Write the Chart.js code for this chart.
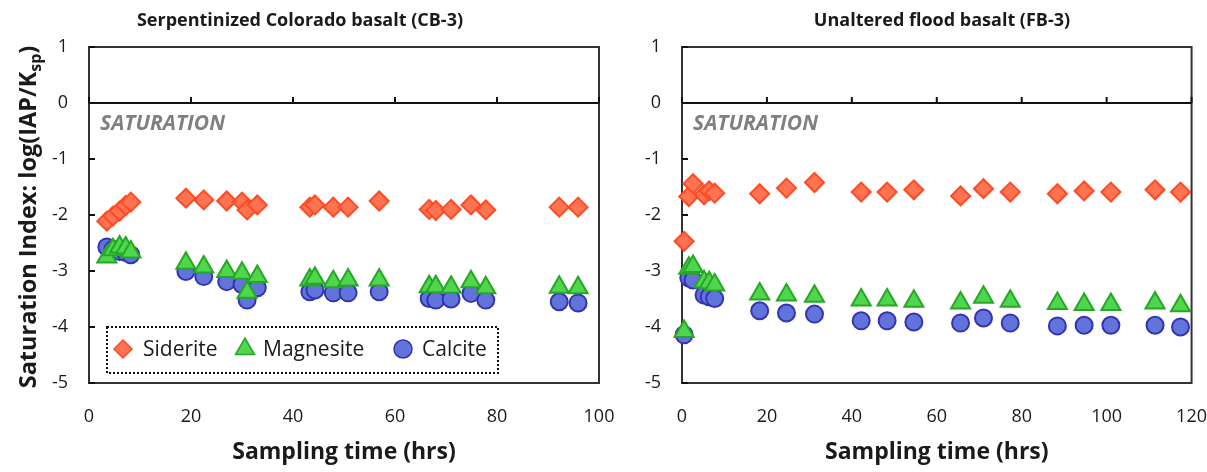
<!DOCTYPE html>
<html lang="en">
<head>
  <meta charset="UTF-8" />
  <title>Saturation indices vs sampling time</title>
  <script src="https://cdn.jsdelivr.net/npm/chart.js"></script>
  <style>
    body { margin: 0; background: #fff; }
    #wrap { position: relative; width: 1207px; height: 472px; }
    .panel { position: absolute; top: 0; height: 472px; }
    #cbPanel { left: 0; width: 620px; }
    #fbPanel { left: 620px; width: 587px; }
  </style>
</head>
<body>
<div id="wrap">
  <div class="panel" id="cbPanel"><canvas id="cbChart"></canvas></div>
  <div class="panel" id="fbPanel"><canvas id="fbChart"></canvas></div>
</div>

<script>
  // CB-3: serpentinized Colorado basalt
  const cbTime      = [3.5, 4.7, 6.0, 7.2, 8.2, 19.0, 22.5, 27.0, 30.0, 31.0, 33.0, 43.3, 44.3, 47.9, 50.8, 56.9, 66.7, 68.0, 71.0, 74.9, 77.8, 92.2, 95.9];
  const cbSiderite  = [-2.11, -2.02, -1.93, -1.83, -1.77, -1.70, -1.73, -1.75, -1.77, -1.91, -1.82, -1.86, -1.82, -1.86, -1.86, -1.75, -1.90, -1.92, -1.90, -1.82, -1.91, -1.86, -1.86];
  const cbMagnesite = [-2.75, -2.62, -2.57, -2.59, -2.66, -2.86, -2.93, -3.01, -3.04, -3.38, -3.10, -3.16, -3.13, -3.19, -3.16, -3.16, -3.28, -3.28, -3.29, -3.19, -3.30, -3.29, -3.30];
  const cbCalcite   = [-2.57, -2.61, -2.65, -2.67, -2.71, -3.01, -3.10, -3.19, -3.24, -3.52, -3.30, -3.37, -3.34, -3.39, -3.39, -3.37, -3.49, -3.52, -3.50, -3.40, -3.52, -3.55, -3.57];

  // FB-3: unaltered flood basalt
  const fbTime      = [0.5, 1.6, 2.6, 5.2, 6.4, 7.7, 18.3, 24.6, 31.2, 42.2, 48.3, 54.6, 65.6, 71.0, 77.3, 88.4, 94.7, 101.0, 111.4, 117.4];
  const fbSiderite  = [-2.47, -1.67, -1.44, -1.64, -1.57, -1.61, -1.62, -1.52, -1.42, -1.59, -1.59, -1.55, -1.66, -1.53, -1.59, -1.62, -1.57, -1.59, -1.55, -1.59];
  const fbMagnesite = [-4.08, -2.95, -2.92, -3.19, -3.21, -3.25, -3.41, -3.43, -3.45, -3.52, -3.52, -3.54, -3.57, -3.47, -3.54, -3.58, -3.60, -3.60, -3.57, -3.62];
  const fbCalcite   = [-4.14, -3.12, -3.16, -3.43, -3.46, -3.49, -3.71, -3.75, -3.77, -3.89, -3.89, -3.91, -3.93, -3.84, -3.93, -3.98, -3.97, -3.97, -3.97, -4.00];

  const minerals = ['Siderite', 'Magnesite', 'Calcite'];

  const markerStyle = {
    Siderite:  { shape: 'rectRot',  r: 9.5, fill: '#ff7352', edge: '#ff4b24' },
    Magnesite: { shape: 'triangle', r: 11,  fill: '#50d64c', edge: '#26a826' },
    Calcite:   { shape: 'circle',   r: 8.5, fill: '#6373dc', edge: '#3434b2' }
  };

  const FONT = '"Open Sans", "DejaVu Sans", sans-serif';
  const INK = '#1a1a1a';

  function makeDatasets(time, series) {
    return minerals.map((name, k) => {
      const s = markerStyle[name];
      return {
        label: name,
        data: time.map((t, i) => ({ x: t, y: series[k][i] })),
        pointStyle: s.shape,
        pointRadius: s.r,
        pointHoverRadius: s.r,
        backgroundColor: s.fill,
        borderColor: s.edge,
        pointBorderWidth: 2,
        showLine: false,
        clip: false
      };
    });
  }

  // simple marker path for the legend box
  function marker(ctx, shape, x, y, r) {
    ctx.beginPath();
    if (shape === 'rectRot') {
      ctx.moveTo(x, y - r); ctx.lineTo(x + r, y); ctx.lineTo(x, y + r); ctx.lineTo(x - r, y);
    } else if (shape === 'triangle') {
      ctx.moveTo(x, y - r);
      ctx.lineTo(x + r * 0.866, y + r * 0.5);
      ctx.lineTo(x - r * 0.866, y + r * 0.5);
    } else {
      ctx.arc(x, y, r, 0, Math.PI * 2);
    }
    ctx.closePath();
    ctx.fill();
    ctx.stroke();
  }

  const decor = {
    id: 'decor',
    beforeDatasetsDraw(chart) {
      const { ctx, chartArea: a, scales: { x, y } } = chart;
      ctx.save();
      // plot frame
      ctx.strokeStyle = '#333';
      ctx.lineWidth = 2;
      ctx.strokeRect(a.left, a.top, a.right - a.left, a.bottom - a.top);

      // zero line with its tick marks, inward ticks on the y axis
      const y0 = y.getPixelForValue(0);
      ctx.strokeStyle = '#111';
      ctx.beginPath();
      ctx.moveTo(a.left, y0);
      ctx.lineTo(a.right, y0);
      x.ticks.forEach(t => {
        const px = x.getPixelForValue(t.value);
        ctx.moveTo(px, y0);
        ctx.lineTo(px, y0 - 6);
      });
      y.ticks.forEach(t => {
        const py = y.getPixelForValue(t.value);
        ctx.moveTo(a.left, py);
        ctx.lineTo(a.left + 6, py);
      });
      ctx.stroke();

      ctx.font = 'italic bold 21px ' + FONT;
      ctx.fillStyle = '#808080';
      ctx.textBaseline = 'middle';
      ctx.textAlign = 'left';
      ctx.fillText('SATURATION', a.left + 11, y0 + 21);
      ctx.restore();
    },
    afterDraw(chart, args, opts) {
      const { ctx, chartArea: a } = chart;
      ctx.save();
      ctx.fillStyle = INK;
      ctx.textBaseline = 'middle';

      // panel heading
      ctx.font = 'bold 18px ' + FONT;
      ctx.textAlign = 'center';
      ctx.fillText(opts.heading, opts.headingX, 21);

      if (opts.yTitle) {
        // rotated axis title with K subscript
        const main = 'Saturation Index: log(IAP/K', sub = 'sp', tail = ')';
        const big = 'bold 23.5px ' + FONT, small = 'bold 16px ' + FONT;
        ctx.font = big;
        const w1 = ctx.measureText(main).width, w3 = ctx.measureText(tail).width;
        ctx.font = small;
        const w2 = ctx.measureText(sub).width;
        ctx.translate(28, 217);
        ctx.rotate(-Math.PI / 2);
        ctx.textAlign = 'left';
        ctx.textBaseline = 'alphabetic';
        let cx = -(w1 + w2 + w3) / 2;
        ctx.font = big;
        ctx.fillText(main, cx, 8);
        cx += w1;
        ctx.font = small;
        ctx.fillText(sub, cx, 13);
        cx += w2;
        ctx.font = big;
        ctx.fillText(tail, cx, 8);
      }
      ctx.restore();

      if (opts.legend) {
        // dotted legend box inside the plot
        ctx.save();
        const L = opts.legend;
        ctx.strokeStyle = '#111';
        ctx.lineWidth = 2;
        ctx.setLineDash([2, 2]);
        ctx.strokeRect(L.x, L.y, L.w, L.h);
        ctx.setLineDash([]);
        const cy = L.y + L.h / 2;
        chart.data.datasets.forEach((ds, i) => {
          const s = markerStyle[ds.label];
          ctx.fillStyle = s.fill;
          ctx.strokeStyle = s.edge;
          ctx.lineWidth = 1.5;
          marker(ctx, s.shape, L.marks[i], cy - 1, s.shape === 'triangle' ? 11 : 9);
          ctx.fillStyle = INK;
          ctx.font = '21px ' + FONT;
          ctx.textAlign = 'left';
          ctx.textBaseline = 'middle';
          ctx.fillText(ds.label, L.texts[i], cy);
        });
        ctx.restore();
      }
    }
  };

  function makeChart(id, time, series, xMax, axisW, padRight, panel) {
    return new Chart(document.getElementById(id), {
      type: 'scatter',
      data: { datasets: makeDatasets(time, series) },
      options: {
        responsive: true,
        maintainAspectRatio: false,
        animation: false,
        layout: { padding: { top: 47, right: padRight, bottom: 0, left: 0 } },
        plugins: {
          legend: { display: false },
          tooltip: { enabled: false },
          decor: panel
        },
        scales: {
          x: {
            type: 'linear',
            min: 0,
            max: xMax,
            afterFit(scale) { scale.height = 89; },
            ticks: { stepSize: 20, padding: 0, color: INK, font: { family: FONT, size: 18 } },
            // invisible tick marks only to push the labels down
            grid: { display: true, drawOnChartArea: false, drawTicks: true, tickLength: 23, color: 'rgba(0,0,0,0)' },
            border: { display: false },
            title: {
              display: true,
              text: 'Sampling time (hrs)',
              color: INK,
              font: { family: FONT, size: 23, weight: 'bold' },
              padding: { top: 0, bottom: 6 }
            }
          },
          y: {
            min: -5,
            max: 1,
            afterFit(scale) { scale.width = axisW; },
            ticks: { stepSize: 1, padding: 21, color: INK, font: { family: FONT, size: 18 } },
            grid: { display: false, drawTicks: false },
            border: { display: false }
          }
        }
      },
      plugins: [decor]
    });
  }

  makeChart('cbChart', cbTime, [cbSiderite, cbMagnesite, cbCalcite], 100, 89, 21, {
    heading: 'Serpentinized Colorado basalt (CB-3)',
    headingX: 300,
    yTitle: true,
    legend: { x: 107, y: 327, w: 391, h: 46, marks: [123, 245, 403], texts: [143, 263, 422] }
  });

  makeChart('fbChart', fbTime, [fbSiderite, fbMagnesite, fbCalcite], 120, 62, 13, {
    heading: 'Unaltered flood basalt (FB-3)',
    headingX: 322,
    yTitle: false,
    legend: null
  });
</script>
</body>
</html>
